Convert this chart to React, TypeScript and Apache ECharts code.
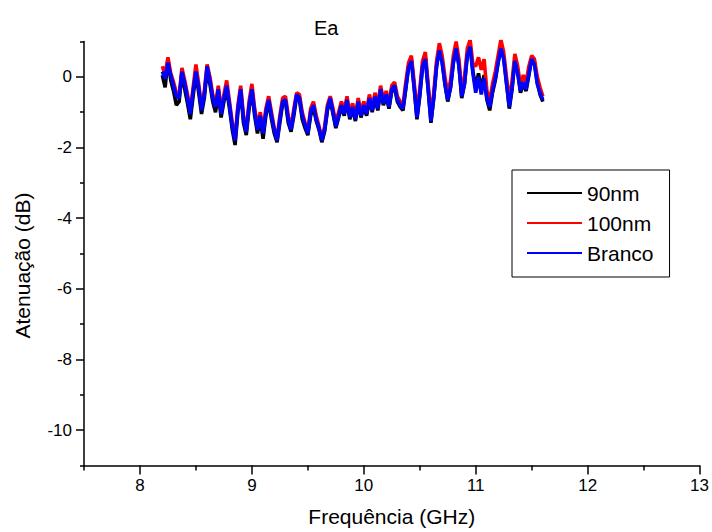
import React, { useEffect, useRef } from "react";
import * as echarts from "echarts";

const FREQ_START = 8.2;
const FREQ_STEP = 0.025;

const series90nm = [
  0.05, -0.3, 0.5, -0.1, -0.4, -0.8, -0.7, 0.1, -0.35, -0.75,
  -1.2, -0.55, 0.1, -0.45, -1.05, -0.6, 0.2, -0.2, -0.7, -1.0,
  -0.45, -1.15, -0.7, -0.35, -0.9, -1.5, -1.93, -1.0, -0.4, -1.3,
  -1.65, -0.9, -0.4, -1.1, -1.6, -1.2, -1.75, -1.1, -0.7, -1.2,
  -1.6, -1.85, -1.3, -0.75, -0.7, -1.3, -1.55, -1.1, -0.55, -0.65,
  -1.2, -1.45, -1.65, -1.1, -0.85, -1.25, -1.5, -1.85, -1.55, -0.95,
  -0.65, -1.05, -1.45, -1.15, -0.85, -1.1, -0.7, -1.2, -0.9, -1.25,
  -0.75, -1.15, -0.85, -1.1, -0.65, -1.0, -0.6, -0.95, -0.4, -0.8,
  -0.55, -0.9, -0.4, -0.3, -0.7, -0.85, -0.95, -0.35, 0.3, 0.5,
  -0.3, -1.2, -0.55, 0.3, 0.55, -0.35, -1.3, -0.6, 0.3, 0.8,
  0.45, -0.2, -0.7, -0.3, 0.4, 0.85, 0.35, -0.6, -0.2, 0.65,
  0.9, 0.15, -0.3, 0.1, -0.35, 0.05, -0.65, -0.95, -0.45, -0.1,
  0.4, 0.85, 0.55, -0.15, -0.9, -0.35, 0.5, 0.15, -0.45, -0.2,
  -0.4, 0.05, 0.5, 0.4, -0.15, -0.5, -0.7,
];

const series100nm = [
  0.3, 0.05, 0.55, 0.1, -0.15, -0.45, -0.55, 0.25, -0.1, -0.5,
  -0.95, -0.3, 0.35, -0.2, -0.85, -0.4, 0.35, 0.0, -0.5, -0.8,
  -0.25, -0.95, -0.5, -0.1, -0.7, -1.3, -1.75, -0.8, -0.25, -1.1,
  -1.5, -0.7, -0.2, -0.9, -1.4, -1.0, -1.5, -0.9, -0.55, -1.0,
  -1.45, -1.75, -1.1, -0.6, -0.55, -1.1, -1.45, -0.9, -0.45, -0.5,
  -1.0, -1.3, -1.55, -0.9, -0.7, -1.1, -1.4, -1.75, -1.4, -0.8,
  -0.55, -0.9, -1.3, -1.0, -0.7, -0.95, -0.55, -1.05, -0.75, -1.1,
  -0.6, -1.0, -0.7, -0.95, -0.5, -0.85, -0.45, -0.8, -0.25, -0.65,
  -0.4, -0.75, -0.25, -0.15, -0.55, -0.7, -0.8, -0.15, 0.4, 0.6,
  -0.15, -1.0, -0.35, 0.45, 0.7, -0.2, -1.1, -0.45, 0.45, 0.95,
  0.6, 0.0, -0.5, -0.1, 0.6, 1.0, 0.5, -0.4, 0.0, 0.8,
  1.05, 0.35, 0.3, 0.55, 0.2, 0.5, -0.4, -0.7, -0.2, 0.15,
  0.6, 1.05, 0.7, 0.0, -0.7, -0.1, 0.65, 0.3, -0.25, 0.05,
  -0.15, 0.3, 0.6, 0.5, 0.0, -0.3, -0.55,
];

const seriesBranco = [
  0.15, -0.05, 0.4, 0.05, -0.25, -0.55, -0.6, 0.15, -0.2, -0.6,
  -1.05, -0.4, 0.15, -0.3, -0.95, -0.5, 0.3, -0.1, -0.6, -0.85,
  -0.35, -1.05, -0.6, -0.25, -0.8, -1.4, -1.8, -0.9, -0.35, -1.2,
  -1.55, -0.8, -0.35, -1.0, -1.5, -1.1, -1.6, -1.0, -0.65, -1.1,
  -1.5, -1.8, -1.2, -0.7, -0.65, -1.2, -1.5, -1.0, -0.5, -0.6,
  -1.1, -1.35, -1.6, -1.0, -0.8, -1.2, -1.45, -1.8, -1.5, -0.9,
  -0.6, -1.0, -1.4, -1.1, -0.8, -1.05, -0.65, -1.15, -0.85, -1.2,
  -0.7, -1.1, -0.8, -1.05, -0.6, -0.95, -0.55, -0.9, -0.35, -0.75,
  -0.5, -0.85, -0.35, -0.25, -0.65, -0.8, -0.9, -0.3, 0.25, 0.45,
  -0.3, -1.15, -0.5, 0.3, 0.5, -0.35, -1.25, -0.6, 0.3, 0.75,
  0.4, -0.2, -0.65, -0.3, 0.4, 0.8, 0.3, -0.55, -0.2, 0.6,
  0.85, 0.1, -0.45, 0.0, -0.5, -0.05, -0.6, -0.85, -0.4, -0.05,
  0.4, 0.8, 0.5, -0.2, -0.85, -0.3, 0.45, 0.1, -0.4, -0.15,
  -0.35, 0.1, 0.5, 0.35, -0.2, -0.45, -0.65,
];

const seriesNames = ["90nm", "100nm", "Branco"];
const seriesColors = ["#000000", "#ff0000", "#0000ff"];

const xMajorTicks = [8, 9, 10, 11, 12, 13];
const xMinorTicks = [7.5, 8.5, 9.5, 10.5, 11.5, 12.5];
const yMajorTicks = [-10, -8, -6, -4, -2, 0];
const yMinorTicks = [-11, -9, -7, -5, -3, -1, 1];

const FONT = "'Liberation Sans', Arial, sans-serif";

function toPairs(values: number[]) {
  return values.map((v, i) => [+(FREQ_START + i * FREQ_STEP).toFixed(3), v]);
}

export default function App() {
  const ref = useRef<HTMLDivElement>(null);

  useEffect(() => {
    document.body.style.margin = "0";
    if (!ref.current) return;
    const chart = echarts.init(ref.current, null, { renderer: "svg" });
    const allSeries = [series90nm, series100nm, seriesBranco];

    const grid = { left: 84, right: 9.5, top: 41.5, bottom: 66.5 };
    const xBase = {
      type: "value",
      min: 7.5,
      max: 13,
      splitLine: { show: false },
      gridIndex: 0,
    };
    const yBase = {
      type: "value",
      min: -11,
      max: 1,
      splitLine: { show: false },
      gridIndex: 0,
    };

    chart.setOption({
      animation: false,
      backgroundColor: "#ffffff",
      title: {
        text: "Ea",
        left: 309,
        top: 13,
        textStyle: { fontFamily: FONT, fontSize: 20, fontWeight: "normal", color: "#000" },
      },
      grid,
      legend: {
        orient: "vertical",
        left: 512,
        top: 170,
        padding: [11, 16, 12, 15],
        borderColor: "#000",
        borderWidth: 1,
        itemWidth: 55,
        itemHeight: 2,
        itemGap: 6,
        icon: "rect",
        textStyle: { fontFamily: FONT, fontSize: 21, color: "#000", lineHeight: 24 },
        data: seriesNames,
      },
      xAxis: [
        {
          ...xBase,
          position: "bottom",
          name: "Frequência (GHz)",
          nameLocation: "middle",
          nameGap: 40,
          nameTextStyle: { fontFamily: FONT, fontSize: 21, color: "#000" },
          axisLine: { show: true, onZero: false, lineStyle: { color: "#000", width: 1.5 } },
          axisTick: { show: true, length: 9, lineStyle: { color: "#000", width: 1.5 }, customValues: xMajorTicks },
          axisLabel: { show: true, margin: 11, fontFamily: FONT, fontSize: 17, color: "#000", customValues: xMajorTicks },
        },
        {
          ...xBase,
          position: "bottom",
          axisLine: { show: false, onZero: false },
          axisTick: { show: true, length: 5, lineStyle: { color: "#000", width: 1.5 }, customValues: xMinorTicks },
          axisLabel: { show: false },
        },
      ],
      yAxis: [
        {
          ...yBase,
          position: "left",
          axisLine: { show: true, onZero: false, lineStyle: { color: "#000", width: 1.5 } },
          axisTick: { show: true, length: 8, lineStyle: { color: "#000", width: 1.5 }, customValues: yMajorTicks },
          axisLabel: { show: true, margin: 12, fontFamily: FONT, fontSize: 17, color: "#000", customValues: yMajorTicks },
        },
        {
          ...yBase,
          position: "left",
          axisLine: { show: false, onZero: false },
          axisTick: { show: true, length: 4, lineStyle: { color: "#000", width: 1.5 }, customValues: yMinorTicks },
          axisLabel: { show: false },
        },
      ],
      graphic: [
        {
          type: "text",
          x: 22,
          y: 265.5,
          rotation: Math.PI / 2,
          style: {
            text: "Atenuação (dB)",
            fontFamily: FONT,
            fontSize: 21,
            fill: "#000",
            align: "center",
            verticalAlign: "middle",
            textAlign: "center",
            textVerticalAlign: "middle",
          },
        },
      ],
      series: allSeries.map((vals, k) => ({
        name: seriesNames[k],
        type: "line",
        xAxisIndex: 0,
        yAxisIndex: 0,
        data: toPairs(vals),
        showSymbol: false,
        symbol: "none",
        color: seriesColors[k],
        lineStyle: { color: seriesColors[k], width: 3.6 },
        itemStyle: { color: seriesColors[k] },
      })),
    });

    return () => chart.dispose();
  }, []);

  return <div ref={ref} style={{ width: 712, height: 532 }} />;
}
